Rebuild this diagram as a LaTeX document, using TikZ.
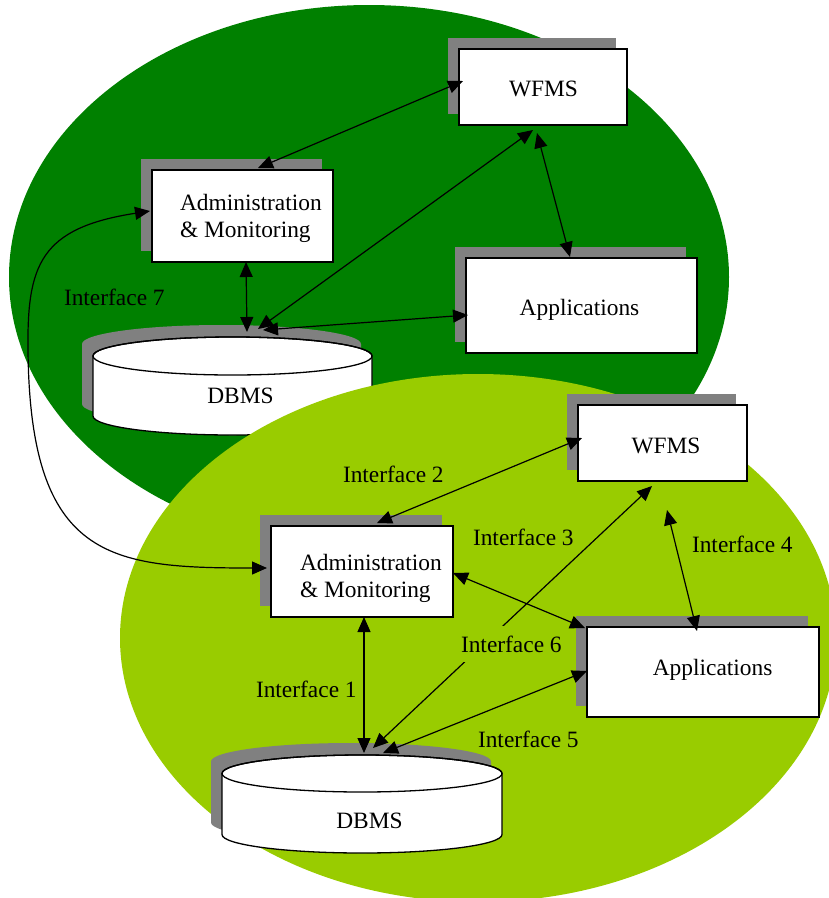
\documentclass[tikz,border=0pt]{standalone}
\usepackage{fontspec}
\setmainfont{Liberation Serif}
\usetikzlibrary{arrows.meta,calc,shadows}
\definecolor{darkgr}{RGB}{0,128,0}
\definecolor{lightgr}{RGB}{153,204,0}
\definecolor{shadowgr}{RGB}{128,128,128}
\newcommand\dbcyl[5]{% cx, top centre y, bottom centre y, rx, ry
  \fill[shadowgr] (#1-#4-11,#2-12) -- (#1-#4-11,#3-12)
    arc[start angle=180,end angle=360,x radius=#4pt,y radius=#5pt]
    -- (#1+#4-11,#2-12)
    arc[start angle=0,end angle=180,x radius=#4pt,y radius=#5pt] -- cycle;
  \filldraw[fill=white,line width=1.3pt] (#1-#4,#2) -- (#1-#4,#3)
    arc[start angle=180,end angle=360,x radius=#4pt,y radius=#5pt]
    -- (#1+#4,#2)
    arc[start angle=0,end angle=180,x radius=#4pt,y radius=#5pt] -- cycle;
  \draw[line width=1.3pt] (#1,#2) ellipse[x radius=#4pt,y radius=#5pt];
}
\begin{document}
\begin{tikzpicture}[x=1pt,y=-1pt,
  every node/.style={font=\fontsize{23.4}{27}\selectfont, inner sep=0pt, outer sep=0pt},
  box/.style={rectangle, draw=black, line width=1.3pt, fill=white,
    general shadow={fill=shadowgr, shadow xshift=-11pt, shadow yshift=11pt}},
  conn/.style={<->, >={Triangle[length=15pt,width=13pt]}, line width=1.2pt},
  lbl/.style={anchor=base west},
  txt/.style={anchor=base}]
\useasboundingbox (0,0) rectangle (829,898);
\clip (0,0) rectangle (829,898);

% ---------- upper (dark) system ----------
\fill[darkgr] (369,277) ellipse[x radius=360pt, y radius=272pt];

\node[box, minimum width=168pt, minimum height=76pt] (twf) at (543,87) {};
\node[txt] (twft) at (543.5,96) {WFMS};
\node[box, minimum width=181pt, minimum height=92pt] (tadm) at (242.5,216) {};
\node[anchor=north west, align=left] (tadmt) at (180,194) {Administration\\\& Monitoring};
\node[box, minimum width=231pt, minimum height=95pt] (tapp) at (581.5,305.5) {};
\node[txt] (tappt) at (579.5,315) {Applications};
\dbcyl{232.5}{356}{416}{139.5}{19}
\coordinate (tdb) at (232.5,337);
\node[txt] (tdbt) at (240.5,403) {DBMS};
\node[lbl] (i7) at (64,305) {Interface 7};

\draw[conn] ($(tadm.north)+(15.5,-2)$) -- ($(twf.west)+(4,-6)$);
\draw[conn] ($(twf.south)+(-10,5)$) -- ($(tdb)+(25.5,-8)$);
\draw[conn] ($(twf.south)+(-6,8)$) -- ($(tapp.north)+(-11.5,-1)$);
\draw[conn] ($(tdb)+(30.5,-7)$) -- ($(tapp.west)+(2,9.5)$);
\draw[conn] ($(tadm.south)+(3.5,0)$) -- ($(tdb)+(14.5,-5)$);

% ---------- lower (light) system ----------
\fill[lightgr] (478,638) ellipse[x radius=358pt, y radius=264pt];

\node[box, minimum width=169pt, minimum height=76pt] (bwf) at (662.5,443) {};
\node[txt] (bwft) at (666,453) {WFMS};
\node[box, minimum width=182pt, minimum height=91pt] (badm) at (362,571.5) {};
\node[anchor=north west, align=left] (badmt) at (300,554) {Administration\\\& Monitoring};
\node[box, minimum width=232pt, minimum height=90pt] (bapp) at (703,672) {};
\node[txt] (bappt) at (712.6,675) {Applications};
\dbcyl{362}{773.5}{834.5}{140}{18.5}
\coordinate (bdb) at (362,755);
\node[txt] (bdbt) at (369.5,828) {DBMS};

\draw[conn] ($(badm.north)+(15,-3)$) -- ($(bwf.west)+(4,-5)$);
\draw[conn] ($(bdb)+(11,-7)$) -- ($(bwf.south)+(-10.5,5)$);
\draw[conn] ($(badm.east)+(0,1.5)$) -- ($(bapp.north west)+(-2,1)$);
\draw[conn] ($(bwf.south)+(4.5,29)$) -- ($(bapp.north)+(-6,4)$);
\draw[conn] ($(bdb)+(21,-2)$) -- ($(bapp.west)+(0,-1)$);
\draw[conn] ($(badm.south)+(2,0)$) -- ($(bdb)+(2,-2)$);

\node[lbl] (i1) at (256,697) {Interface 1};
\node[lbl] (i2) at (343,482) {Interface 2};
\node[lbl] (i3) at (473,545) {Interface 3};
\node[lbl] (i4) at (692,552) {Interface 4};
\node[lbl] (i5) at (478,747) {Interface 5};
\node[lbl, fill=lightgr, inner xsep=1pt, inner ysep=10pt] (i6) at (460,652) {Interface 6};

% ---------- interface 7 connector ----------
\draw[conn] ($(tadm.west)+(-2,-5)$) .. controls (40,228) and (27,265) .. (28,350)
  .. controls (30,560) and (110,568) .. ($(badm.west)+(-4,-3.5)$);
\end{tikzpicture}
\end{document}
